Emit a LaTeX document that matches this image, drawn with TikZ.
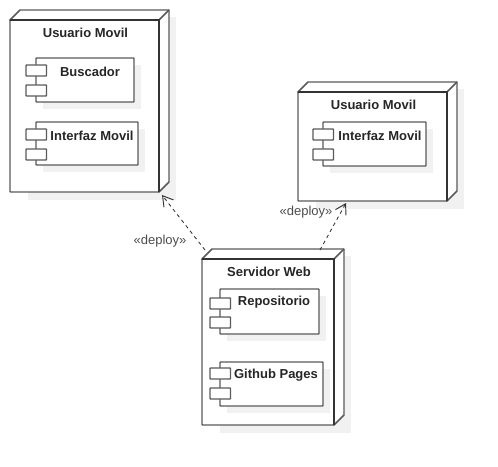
\documentclass[tikz,border=0pt]{standalone}
\usepackage{fontspec}
\setmainfont{Liberation Sans}
\usetikzlibrary{fit,calc,arrows.meta,backgrounds}
\definecolor{edge}{HTML}{5A5A5A}
\definecolor{darkedge}{HTML}{333333}
\definecolor{shade}{HTML}{F1F1F1}
\tikzset{
  box/.style={draw=edge,line width=1.1pt,fill=white,inner sep=0pt,outer sep=0pt,rounded corners=0.5pt},
  backface/.style={draw=edge,line width=1.1pt,fill=white,line join=round},
  accent/.style={draw=darkedge,line width=1.5pt},
  shadowbox/.style={fill=shade,draw=none},
  titletext/.style={font=\bfseries\fontsize{9.75}{11}\selectfont,text=black!85,inner sep=0pt},
  deploytext/.style={font=\fontsize{9.75}{11}\selectfont,text=black!70,inner sep=0pt},
  dep/.style={draw=black!80,line width=0.65pt,dash pattern=on 2.6pt off 2.6pt,-{Straight Barb[length=7.5pt,width=9pt,line width=0.7pt]}},
}
% #1 name, #2 x1, #3 y1, #4 x2, #5 y2, #6 title
\newcommand{\depnode}[6]{%
  \fill[shadowbox] ({#2+18},{#3-3}) rectangle ({#4+17},{#5+8});
  \draw[backface] ({#2},{#3}) -- ({#2+10},{#3-10}) -- ({#4+10},{#3-10}) -- ({#4+10},{#5-10}) -- ({#4},{#5}) -- cycle;
  \draw[backface] ({#4},{#3}) -- ({#4+10},{#3-10});
  \node[box,fit={(#2,#3) (#4,#5)}] (#1) {};
  \draw[accent] (#1.north west) -- (#1.north east) -- (#1.south east);
  \node[titletext] (#1title) at ({(#2+#4)/2+1},{#3+13}) {#6};
}
% #1 name, #2 x1, #3 y1, #4 x2, #5 y2, #6 text, #7 first port offset, #8 second port offset, #9 text x
\newcommand{\compnode}[9]{%
  \fill[shadowbox] ({#2+7},{#3+7}) rectangle ({#4+7},{#5+7});
  \node[box,fit={(#2,#3) (#4,#5)}] (#1) {};
  \node[box,fit={({#2-10},{#3+#7}) ({#2+10.5},{#3+#7+11})}] (#1a) {};
  \node[box,fit={({#2-10},{#3+#8}) ({#2+10.5},{#3+#8+11})}] (#1b) {};
  \node[titletext] (#1text) at (#9,{#3+13.5}) {#6};
}
\begin{document}
\begin{tikzpicture}[x=0.75pt,y=-0.75pt]
\useasboundingbox (0,0) rectangle (498,466);
\depnode{usra}{10}{20}{159}{192}{Usuario Movil}
\compnode{busc}{36}{58}{134}{102}{Buscador}{7}{27}{90}
\compnode{ifza}{36}{122}{138}{165}{Interfaz Movil}{7}{27}{92}
\depnode{usrb}{298}{92}{447}{201}{Usuario Movil}
\compnode{ifzb}{323}{122}{426}{166}{Interfaz Movil}{7}{27}{380}
\depnode{srv}{202}{259}{334}{425}{Servidor Web}
\compnode{repo}{220}{289}{319}{334}{Repositorio}{9}{28}{274}
\compnode{ghub}{220}{362}{323}{406}{Github Pages}{6}{26}{276}
\coordinate (srvleft) at ($(srv.north west)+(3,-9)$);
\coordinate (usraend) at ($(usra.south east)+(3,3)$);
\coordinate (srvright) at ($(srv.north east)+(-14,-9)$);
\coordinate (usrbend) at ($(usrb.south east)+(-101,2)$);
\draw[dep] (srvleft) -- (usraend);
\draw[dep] (srvright) -- (usrbend);
\node[deploytext] (lbla) at (160,241) {«deploy»};
\node[deploytext] (lblb) at (306,212) {«deploy»};
\end{tikzpicture}
\end{document}
